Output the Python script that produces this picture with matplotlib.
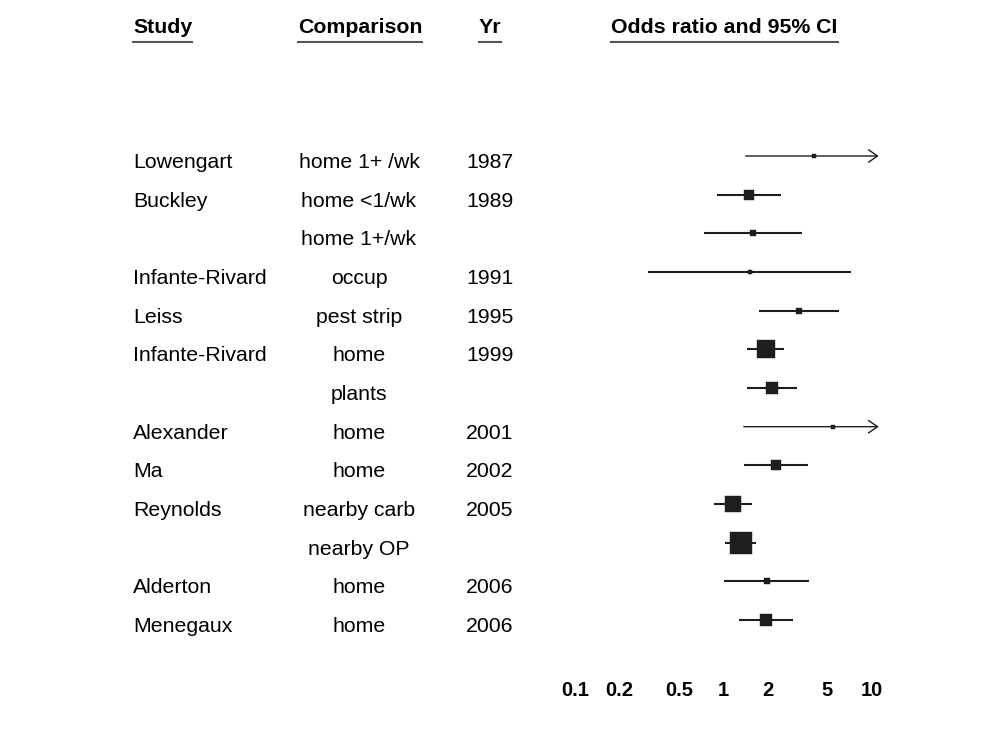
import numpy as np
import matplotlib
matplotlib.use("Agg")
import matplotlib.pyplot as plt
import matplotlib.transforms as mtransforms
from matplotlib.lines import Line2D

plt.rcParams['font.family'] = ['Liberation Sans', 'DejaVu Sans']

# Studies of residential / occupational pesticide exposure and childhood leukaemia
studies = ["Lowengart", "Buckley", "", "Infante-Rivard", "Leiss", "Infante-Rivard", "",
           "Alexander", "Ma", "Reynolds", "", "Alderton", "Menegaux"]
comparisons = ["home 1+ /wk", "home <1/wk", "home 1+/wk", "occup", "pest strip", "home",
               "plants", "home", "home", "nearby carb", "nearby OP", "home", "home"]
years = ["1987", "1989", "", "1991", "1995", "1999", "", "2001", "2002", "2005", "",
         "2006", "2006"]
odds = [4.1, 1.48, 1.57, 1.50, 3.2, 1.93, 2.12, 5.5, 2.26, 1.15, 1.31, 1.95, 1.92]
lower = [1.41, 0.90, 0.74, 0.31, 1.73, 1.45, 1.43, 1.37, 1.38, 0.86, 1.03, 1.01, 1.28]
upper = [None, 2.43, 3.36, 7.2, 6.0, 2.54, 3.14, None, 3.69, 1.56, 1.66, 3.75, 2.92]
weights = [0.9, 5.6, 2.7, 0.6, 2.7, 18.1, 9.4, 0.8, 5.6, 16.1, 27.0, 2.7, 8.0]

tick_values = [0.1, 0.2, 0.5, 1, 2, 5, 10]
tick_labels = ["0.1", "0.2", "0.5", "1", "2", "5", "10"]

W, H = 997, 730
fig = plt.figure(figsize=(W / 100, H / 100), dpi=100)
fig.patch.set_facecolor('white')

# forest panel: log axis, one row per comparison
row_px = 38.67
top_px, bot_px = 130, 677
ax = fig.add_axes([552.0 / W, (H - bot_px) / H, (893.7 - 552.0) / W, (bot_px - top_px) / H])
ax.set_xscale('log')
ax.set_xlim(0.07, 14)
ax.set_ylim((bot_px - 156) / row_px, (top_px - 156) / row_px)
for s in ax.spines.values():
    s.set_visible(False)
ax.set_yticks([])
ax.set_xticks(tick_values)
ax.set_xticklabels(tick_labels, fontsize=14.5, fontweight='bold')
ax.xaxis.set_minor_locator(matplotlib.ticker.NullLocator())
ax.tick_params(axis='x', length=0, pad=3)

arrow_end = 11.1
ink = '#1e1e1e'
for i in range(len(odds)):
    if upper[i] is None:
        ax.annotate('', xy=(arrow_end, i), xytext=(lower[i], i),
                    arrowprops=dict(arrowstyle='->,head_length=0.65,head_width=0.45',
                                    color=ink, lw=1.0, shrinkA=0, shrinkB=0))
    else:
        ax.plot([lower[i], upper[i]], [i, i], color=ink, lw=1.5, solid_capstyle='butt')
    side = 4.23 * np.sqrt(weights[i]) * 0.72
    ax.plot(odds[i], i, marker='s', ms=side, color=ink, mec=ink, mew=0.3)

# text columns share the row positions of the forest panel
trans = mtransforms.blended_transform_factory(fig.transFigure, ax.transData)
txt_off = 12 / row_px
fs = 15.3
for i in range(len(odds)):
    fig.text(133 / W, i + txt_off, studies[i], transform=trans, fontsize=fs,
             ha='left', va='baseline')
    fig.text(359 / W, i + txt_off, comparisons[i], transform=trans, fontsize=fs,
             ha='center', va='baseline')
    fig.text(490 / W, i + txt_off, years[i], transform=trans, fontsize=fs,
             ha='center', va='baseline')

head_y = (33 - 156) / row_px
headers = [("Study", 133, 'left'), ("Comparison", 360, 'center'),
           ("Yr", 490, 'center'), ("Odds ratio and 95% CI", 724.5, 'center')]
head_texts = []
for label, x, ha in headers:
    head_texts.append(fig.text(x / W, head_y, label, transform=trans, fontsize=fs,
                               fontweight='bold', ha=ha, va='baseline'))

# underline each heading across its own width
fig.canvas.draw()
renderer = fig.canvas.get_renderer()
for t in head_texts:
    bb = t.get_window_extent(renderer)
    fig.add_artist(Line2D([bb.x0, bb.x1], [H - 41.5, H - 41.5], color='#555555', lw=1.5,
                          transform=mtransforms.IdentityTransform()))

fig.savefig('out.png', dpi=100)
